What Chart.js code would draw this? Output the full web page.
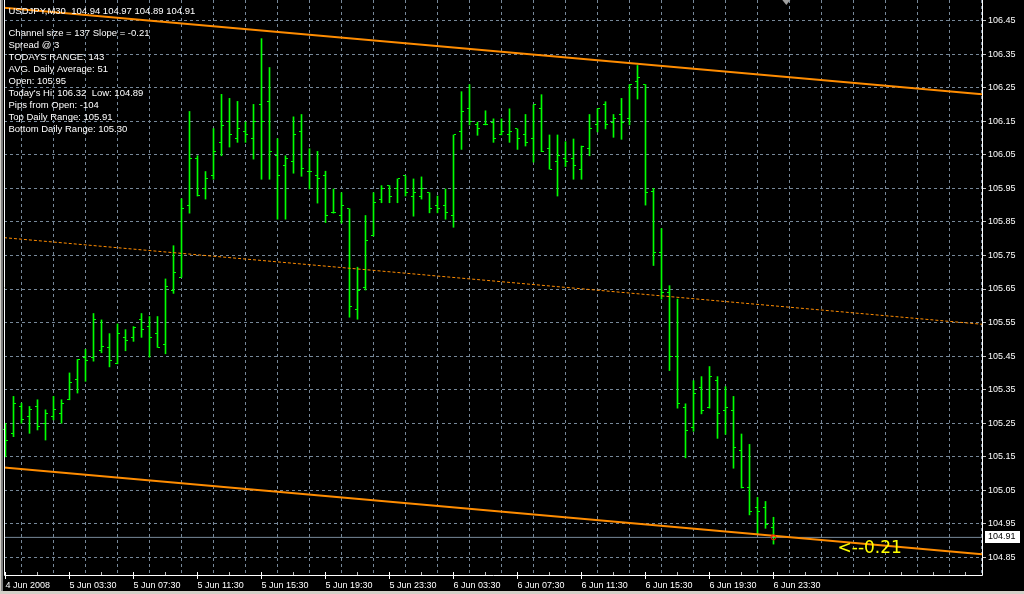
<!DOCTYPE html>
<html>
<head>
<meta charset="utf-8">
<script src="https://cdn.jsdelivr.net/npm/chart.js@4.4.1/dist/chart.umd.min.js"></script>
<style>
  html, body { margin: 0; padding: 0; background: #000; }
  canvas { display: block; }
</style>
</head>
<body>
<canvas id="chart" width="1024" height="594"></canvas>
<script>
// USDJPY M30 bars, index 0 = 4 Jun 2008 23:30
const opens = [105.23,105.22,105.30,105.27,105.30,105.25,105.27,105.28,105.32,105.38,
  105.447,105.447,105.468,105.477,105.427,105.507,105.507,105.558,105.537,105.516,
  105.486,105.645,105.685,105.898,106.038,105.948,105.987,106.088,106.148,106.097,
  106.118,106.097,106.199,106.208,106.047,106.017,106.029,106.118,105.999,105.987,
  105.987,105.877,105.868,105.889,105.588,105.655,105.808,105.918,105.958,105.948,
  105.987,105.927,105.927,105.937,105.898,105.898,105.868,106.118,106.187,106.139,
  106.139,106.147,106.109,106.109,106.127,106.109,106.097,106.187,106.068,106.029,
  106.038,106.038,106.007,106.068,106.139,106.199,106.147,106.169,106.157,106.268,
  106.259,105.94,105.76,105.64,105.45,105.296,105.236,105.358,105.296,105.376,
  105.287,105.287,105.168,105.06,104.998,104.998,104.94];
const highs = [105.25,105.33,105.31,105.30,105.32,105.29,105.33,105.32,105.40,105.44,
  105.47,105.577,105.558,105.517,105.546,105.529,105.538,105.577,105.568,105.568,
  105.68,105.779,105.919,106.179,106.047,106.0,106.128,106.23,106.218,106.209,
  106.148,106.2,106.396,106.31,106.098,106.047,106.163,106.17,106.068,106.06,
  106.001,105.948,105.937,105.889,105.715,105.869,105.937,105.958,105.958,105.978,
  105.987,105.978,105.984,105.937,105.927,105.948,106.109,106.238,106.259,106.147,
  106.181,106.157,106.157,106.187,106.127,106.17,106.199,106.229,106.109,106.109,
  106.089,106.097,106.076,106.17,106.187,106.208,106.17,106.218,106.259,106.316,
  106.259,105.95,105.83,105.66,105.62,105.308,105.377,105.389,105.419,105.389,
  105.359,105.33,105.218,105.187,105.029,105.017,104.97];
const lows = [105.15,105.21,105.25,105.22,105.23,105.20,105.26,105.25,105.32,105.34,
  105.375,105.435,105.46,105.418,105.427,105.466,105.494,105.506,105.447,105.476,
  105.457,105.637,105.685,105.876,105.927,105.918,105.977,106.047,106.073,106.087,
  106.087,106.037,105.977,105.977,105.858,105.858,105.995,105.986,105.948,105.906,
  105.848,105.876,105.846,105.566,105.56,105.647,105.808,105.907,105.907,105.907,
  105.927,105.867,105.918,105.877,105.877,105.858,105.834,106.066,106.139,106.108,
  106.139,106.087,106.109,106.087,106.066,106.076,106.028,106.059,106.007,105.927,
  106.015,105.977,105.977,106.047,106.118,106.127,106.102,106.096,106.139,106.216,
  105.90,105.72,105.62,105.407,105.295,105.147,105.226,105.278,105.295,105.205,
  105.217,105.116,105.057,104.977,104.918,104.937,104.89];
const closes = [105.20,105.31,105.26,105.29,105.24,105.28,105.29,105.31,105.37,105.44,
  105.436,105.558,105.478,105.437,105.516,105.498,105.536,105.528,105.507,105.476,
  105.656,105.698,105.889,106.04,105.928,105.978,106.059,106.138,106.109,106.127,
  106.109,106.148,106.148,106.059,105.987,106.038,106.109,106.008,105.999,105.978,
  105.868,105.877,105.898,105.598,105.647,105.796,105.907,105.948,105.927,105.978,
  105.937,105.937,105.948,105.889,105.889,105.877,106.109,106.178,106.15,106.127,
  106.139,106.097,106.118,106.118,106.097,106.088,106.199,106.059,106.007,106.047,
  106.029,106.017,106.076,106.127,106.187,106.139,106.157,106.147,106.259,106.28,
  105.937,105.76,105.64,105.45,105.308,105.227,105.338,105.287,105.388,105.278,
  105.296,105.177,105.058,104.986,104.986,104.947,104.91];

const timeLabels = ['4 Jun 2008','5 Jun 03:30','5 Jun 07:30','5 Jun 11:30','5 Jun 15:30',
  '5 Jun 19:30','5 Jun 23:30','6 Jun 03:30','6 Jun 07:30','6 Jun 11:30','6 Jun 15:30',
  '6 Jun 19:30','6 Jun 23:30'];
const priceTicks = [104.85,104.95,105.05,105.15,105.25,105.35,105.45,105.55,105.65,105.75,
  105.85,105.95,106.05,106.15,106.25,106.35,106.45];

// regression channel (ends at the left and right edge of the window)
const channelEnds = [-0.1875, 122.0625];
const upperChannel = [106.488, 106.230];
const middleChannel = [105.803, 105.545];
const lowerChannel = [105.118, 104.860];

const symbol = 'USDJPY,M30';
const infoLines = ['Channel size = 137 Slope = -0.21', 'Spread @ 3', 'TODAYS RANGE: 143',
  'AVG. Daily Average: 51', 'Open: 105.95', "Today's Hi: 106.32  Low: 104.89",
  'Pips from Open: -104', 'Top Daily Range: 105.91', 'Bottom Daily Range: 105.30'];
const slopeLabel = { text: '<--0.21', x: 104.0, y: 104.877 };

const barColor = '#00ff00';
const orange = '#ff8c00';
const gridColor = '#778899';
const last = closes.length - 1;

function lineData(ys) {
    return channelEnds.map((x, k) => ({ x: x, y: ys[k] }));
}

const mt4Plugin = {
    id: 'mt4',
    beforeDraw(chart) {
        const ctx = chart.ctx;
        ctx.save();
        ctx.fillStyle = '#000';
        ctx.fillRect(0, 0, chart.width, chart.height);
        ctx.fillStyle = '#d4d0c8';
        ctx.fillRect(0, 0, 1, chart.height);
        ctx.fillRect(0, 591, chart.width, 3);
        ctx.fillStyle = '#808080';
        ctx.fillRect(1, 0, 2, 591);
        ctx.restore();
    },
    afterDatasetsDraw(chart) {
        // open / close ticks
        const { ctx, scales: { x, y } } = chart;
        ctx.save();
        ctx.fillStyle = barColor;
        opens.forEach((o, i) => {
            const px = Math.round(x.getPixelForValue(i) - 0.5);
            ctx.fillRect(px - 2, Math.round(y.getPixelForValue(o) - 0.5), 2, 1);
            ctx.fillRect(px + 1, Math.round(y.getPixelForValue(closes[i]) - 0.5), 2, 1);
        });
        ctx.restore();
    },
    afterDraw(chart) {
        const { ctx, chartArea: area, scales: { x, y } } = chart;
        ctx.save();
        // frame
        ctx.strokeStyle = '#ffffff';
        ctx.lineWidth = 1;
        ctx.beginPath();
        ctx.moveTo(area.left + 0.5, 0);
        ctx.lineTo(area.left + 0.5, area.bottom + 0.5);
        ctx.lineTo(area.right + 0.5, area.bottom + 0.5);
        ctx.lineTo(area.right + 0.5, 0);
        ctx.stroke();

        // time axis tick marks
        x.ticks.forEach(t => {
            const px = Math.round(x.getPixelForValue(t.value) - 0.5);
            const major = t.value % 8 === 0 && t.value / 8 < timeLabels.length;
            ctx.fillStyle = major ? '#ffffff' : '#c0c0c0';
            ctx.fillRect(px, area.bottom - 3, 1, major ? 7 : 3);
        });

        // shift marker
        const sx = x.getPixelForValue(97.6);
        ctx.fillStyle = '#a0a0a0';
        ctx.beginPath();
        ctx.moveTo(sx - 4, 0);
        ctx.lineTo(sx + 4, 0);
        ctx.lineTo(sx, 5);
        ctx.closePath();
        ctx.fill();

        // info text
        ctx.fillStyle = '#ffffff';
        ctx.font = '9.5px "Liberation Sans"';
        ctx.textBaseline = 'middle';
        ctx.textAlign = 'left';
        const ohlc = [opens[last], highs[last], lows[last], closes[last]].map(v => v.toFixed(2)).join(' ');
        ctx.fillText(symbol + '  ' + ohlc, 8.5, 11);
        infoLines.forEach((s, k) => ctx.fillText(s, 8.5, 33 + k * 12));

        // last price box
        const py = Math.round(y.getPixelForValue(closes[last]));
        ctx.fillStyle = '#ffffff';
        ctx.fillRect(985, py - 6, 35, 12);
        ctx.fillStyle = '#000000';
        ctx.font = '9px "Liberation Sans"';
        ctx.fillText(closes[last].toFixed(2), 988, py);

        // slope label
        ctx.fillStyle = '#ffff00';
        ctx.font = '17px "DejaVu Sans"';
        ctx.fillText(slopeLabel.text, x.getPixelForValue(slopeLabel.x), y.getPixelForValue(slopeLabel.y));
        ctx.restore();
    }
};

const ctx = document.getElementById('chart').getContext('2d');
const chart = new Chart(ctx, {
    type: 'bar',
    data: {
        datasets: [
            {
                type: 'scatter',
                data: [{ x: last, y: closes[last] }],
                pointStyle: 'circle',
                pointRadius: 2.5,
                borderColor: '#ff0000',
                backgroundColor: 'rgba(0,0,0,0)',
                borderWidth: 1
            },
            {
                type: 'line',
                data: lineData(upperChannel),
                borderColor: orange,
                borderWidth: 2,
                pointRadius: 0
            },
            {
                type: 'line',
                data: lineData(lowerChannel),
                borderColor: orange,
                borderWidth: 2,
                pointRadius: 0
            },
            {
                type: 'line',
                data: lineData(middleChannel),
                borderColor: orange,
                borderWidth: 1,
                borderDash: [3, 2],
                pointRadius: 0
            },
            {
                type: 'line',
                data: lineData([closes[last], closes[last]]),
                borderColor: gridColor,
                borderWidth: 1,
                pointRadius: 0
            },
            {
                type: 'bar',
                data: opens.map((o, i) => ({ x: i, y: [lows[i], highs[i]] })),
                backgroundColor: barColor,
                borderWidth: 0,
                barThickness: 1,
                grouped: false
            }
        ]
    },
    options: {
        responsive: false,
        animation: false,
        layout: { autoPadding: false, padding: { left: 4, top: 0, right: 0, bottom: 0 } },
        plugins: {
            legend: { display: false },
            tooltip: { enabled: false }
        },
        scales: {
            x: {
                type: 'linear',
                position: 'bottom',
                min: channelEnds[0],
                max: channelEnds[1],
                offset: false,
                afterFit(scale) {
                    scale.height = 19;
                    scale.paddingLeft = 0;
                    scale.paddingRight = 0;
                },
                afterBuildTicks(scale) {
                    const t = [];
                    for (let v = 0; v <= 120; v += 4) t.push({ value: v });
                    scale.ticks = t;
                },
                grid: { color: gridColor, lineWidth: 1, drawTicks: false },
                border: { display: false, dash: [3, 3] },
                ticks: {
                    autoSkip: false,
                    maxRotation: 0,
                    align: 'start',
                    padding: 5,
                    color: '#ffffff',
                    font: { family: 'Liberation Sans', size: 9 },
                    callback: v => (v % 8 === 0 && v / 8 < timeLabels.length) ? timeLabels[v / 8] : ''
                }
            },
            y: {
                type: 'linear',
                position: 'right',
                min: 104.7979,
                max: 106.5111,
                afterFit(scale) {
                    scale.width = 42;
                    scale.paddingTop = 0;
                    scale.paddingBottom = 0;
                },
                afterBuildTicks(scale) {
                    scale.ticks = priceTicks.map(v => ({ value: v }));
                },
                grid: { color: gridColor, lineWidth: 1, drawTicks: true, tickLength: 4, tickColor: '#c0c0c0' },
                border: { display: false, dash: [3, 3] },
                ticks: {
                    padding: 2,
                    color: '#ffffff',
                    font: { family: 'Liberation Sans', size: 9 },
                    callback: v => v.toFixed(2)
                }
            }
        }
    },
    plugins: [mt4Plugin]
});
</script>
</body>
</html>
